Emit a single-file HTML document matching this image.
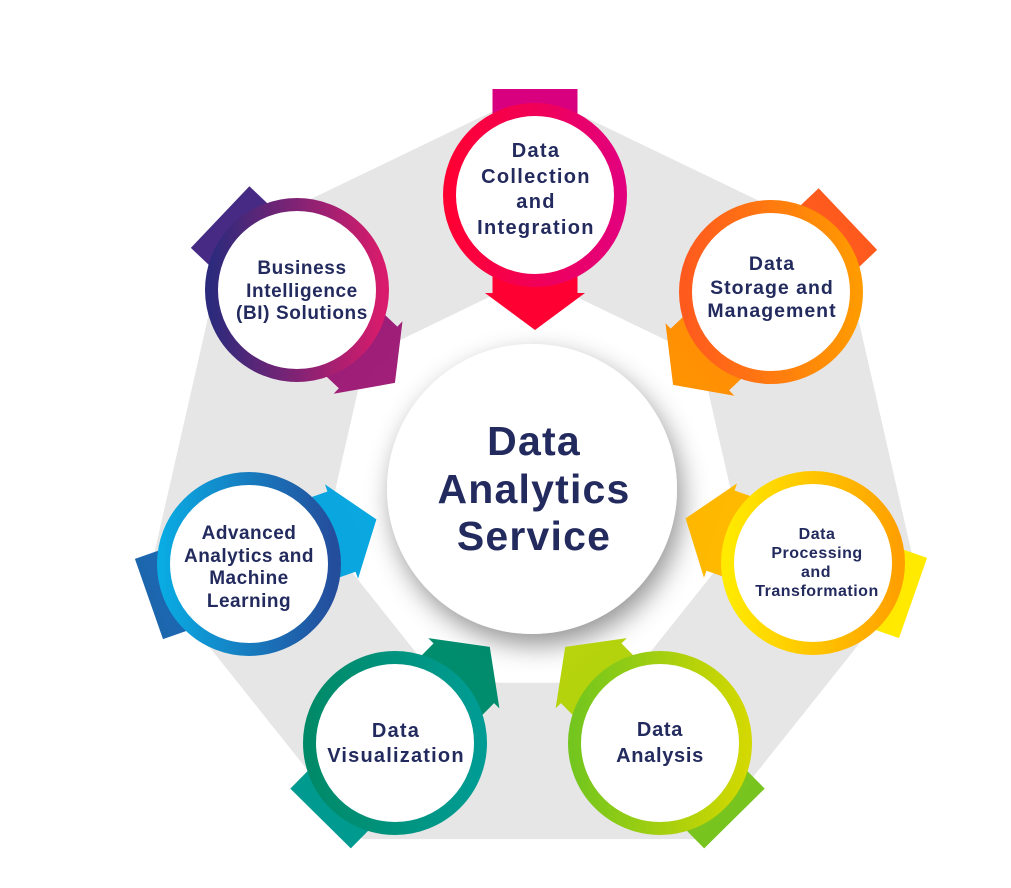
<!DOCTYPE html>
<html>
<head>
<meta charset="utf-8">
<style>
  html,body{margin:0;padding:0;background:#ffffff;}
  svg{display:block;}
  .c{font-family:"Liberation Sans",sans-serif;font-weight:bold;fill:#232b5e;text-anchor:middle;}
</style>
</head>
<body>
<svg width="1011" height="888" viewBox="0 0 1011 888" xmlns="http://www.w3.org/2000/svg">
  <defs>
    <filter id="sh" x="-30%" y="-30%" width="160%" height="170%">
      <feDropShadow dx="5" dy="11" stdDeviation="13" flood-color="#000" flood-opacity="0.42"/>
    </filter>
    <!-- ring gradients -->
    <linearGradient id="r1" x1="0" y1="0" x2="1" y2="0"><stop offset="0" stop-color="#ff0033"/><stop offset="1" stop-color="#e2007c"/></linearGradient>
    <linearGradient id="r2" x1="0" y1="0" x2="1" y2="0"><stop offset="0" stop-color="#ff5a1e"/><stop offset="1" stop-color="#ff9a00"/></linearGradient>
    <linearGradient id="r3" x1="0" y1="0" x2="1" y2="0"><stop offset="0" stop-color="#ffea00"/><stop offset="1" stop-color="#ffa000"/></linearGradient>
    <linearGradient id="r4" x1="0" y1="0" x2="1" y2="0"><stop offset="0" stop-color="#74c61e"/><stop offset="1" stop-color="#d2d800"/></linearGradient>
    <linearGradient id="r5" x1="0" y1="0" x2="1" y2="0"><stop offset="0" stop-color="#008a68"/><stop offset="1" stop-color="#009c94"/></linearGradient>
    <linearGradient id="r6" x1="0" y1="0" x2="1" y2="0"><stop offset="0" stop-color="#0aaae2"/><stop offset="1" stop-color="#244d9c"/></linearGradient>
    <linearGradient id="r7" x1="0" y1="0" x2="1" y2="0"><stop offset="0" stop-color="#2c2a7c"/><stop offset="1" stop-color="#d81b6c"/></linearGradient>
    <!-- arrow gradients (local coords) -->
    <linearGradient id="a1" gradientUnits="userSpaceOnUse" x1="-106" y1="0" x2="135" y2="0"><stop offset="0" stop-color="#d8007f"/><stop offset="0.3" stop-color="#d8007f"/><stop offset="0.7" stop-color="#ff0033"/><stop offset="1" stop-color="#ff0033"/></linearGradient>
    <linearGradient id="a2" gradientUnits="userSpaceOnUse" x1="-106" y1="0" x2="135" y2="0"><stop offset="0" stop-color="#ff5a1e"/><stop offset="0.3" stop-color="#ff5e1c"/><stop offset="0.7" stop-color="#ff8c08"/><stop offset="1" stop-color="#ff9400"/></linearGradient>
    <linearGradient id="a3" gradientUnits="userSpaceOnUse" x1="-106" y1="0" x2="135" y2="0"><stop offset="0" stop-color="#ffea00"/><stop offset="0.3" stop-color="#ffe600"/><stop offset="0.7" stop-color="#ffbc00"/><stop offset="1" stop-color="#ffb600"/></linearGradient>
    <linearGradient id="a4" gradientUnits="userSpaceOnUse" x1="-106" y1="0" x2="135" y2="0"><stop offset="0" stop-color="#78c41e"/><stop offset="0.3" stop-color="#7cc61c"/><stop offset="0.7" stop-color="#b0d20e"/><stop offset="1" stop-color="#b8d40c"/></linearGradient>
    <linearGradient id="a5" gradientUnits="userSpaceOnUse" x1="-106" y1="0" x2="135" y2="0"><stop offset="0" stop-color="#009a90"/><stop offset="0.3" stop-color="#00988c"/><stop offset="0.7" stop-color="#008e70"/><stop offset="1" stop-color="#008c6c"/></linearGradient>
    <linearGradient id="a6" gradientUnits="userSpaceOnUse" x1="-106" y1="0" x2="135" y2="0"><stop offset="0" stop-color="#1c66ae"/><stop offset="0.3" stop-color="#1a6cb4"/><stop offset="0.7" stop-color="#0aa4de"/><stop offset="1" stop-color="#0aa8e0"/></linearGradient>
    <linearGradient id="a7" gradientUnits="userSpaceOnUse" x1="-106" y1="0" x2="135" y2="0"><stop offset="0" stop-color="#452a84"/><stop offset="0.3" stop-color="#4c2a84"/><stop offset="0.7" stop-color="#9a1e78"/><stop offset="1" stop-color="#a21f78"/></linearGradient>
    <path id="arr" d="M-106,-42.5 L98,-42.5 L98,-50 L135,0 L98,50 L98,42.5 L-106,42.5 Z"/>
  </defs>

  <!-- gray heptagon ring -->
  <path fill="#e6e6e6" fill-rule="evenodd"
    d="M533,92 L840.3,240 L916.1,572.4 L703.5,839.1 L362.5,839.1 L149.9,572.4 L225.7,240 Z
       M533,276 L700.3,356.6 L741.6,537.6 L625.9,682.8 L440.1,682.8 L324.4,537.6 L365.7,356.6 Z"/>

  <!-- central circle -->
  <circle cx="532" cy="489" r="145" fill="#ffffff" filter="url(#sh)"/>
  <text class="c" x="534" y="455" font-size="41" letter-spacing="1.2">Data</text>
  <text class="c" x="534" y="503" font-size="41" letter-spacing="1.2">Analytics</text>
  <text class="c" x="534" y="550" font-size="41" letter-spacing="1.2">Service</text>

  <!-- arrows -->
  <use href="#arr" fill="url(#a1)" transform="translate(535,195) rotate(90)"/>
  <use href="#arr" fill="url(#a2)" transform="translate(771,292) rotate(136.5)"/>
  <use href="#arr" fill="url(#a3)" transform="translate(813,563) rotate(199.3)"/>
  <use href="#arr" fill="url(#a4)" transform="translate(660,743) rotate(225.4)"/>
  <use href="#arr" fill="url(#a5)" transform="translate(395,743) rotate(-45.4)"/>
  <use href="#arr" fill="url(#a6)" transform="translate(249,564) rotate(-19.3)"/>
  <use href="#arr" fill="url(#a7)" transform="translate(297,290) rotate(43.5)"/>

  <!-- node rings -->
  <circle cx="535" cy="195" r="85.5" fill="#ffffff" stroke="url(#r1)" stroke-width="13"/>
  <circle cx="771" cy="292" r="85.5" fill="#ffffff" stroke="url(#r2)" stroke-width="13"/>
  <circle cx="813" cy="563" r="85.5" fill="#ffffff" stroke="url(#r3)" stroke-width="13"/>
  <circle cx="660" cy="743" r="85.5" fill="#ffffff" stroke="url(#r4)" stroke-width="13"/>
  <circle cx="395" cy="743" r="85.5" fill="#ffffff" stroke="url(#r5)" stroke-width="13"/>
  <circle cx="249" cy="564" r="85.5" fill="#ffffff" stroke="url(#r6)" stroke-width="13"/>
  <circle cx="297" cy="290" r="85.5" fill="#ffffff" stroke="url(#r7)" stroke-width="13"/>

  <!-- node labels -->
  <g class="c" font-size="20" letter-spacing="1.3">
    <text x="536" y="157">Data</text>
    <text x="536" y="183">Collection</text>
    <text x="536" y="208">and</text>
    <text x="536" y="234">Integration</text>
  </g>
  <g class="c" font-size="19.5" letter-spacing="1">
    <text x="772" y="270">Data</text>
    <text x="772" y="294">Storage and</text>
    <text x="772" y="317">Management</text>
  </g>
  <g class="c" font-size="16" letter-spacing="0.5">
    <text x="817" y="539">Data</text>
    <text x="817" y="558">Processing</text>
    <text x="816" y="577">and</text>
    <text x="817" y="596">Transformation</text>
  </g>
  <g class="c" font-size="20" letter-spacing="0.7">
    <text x="660" y="736">Data</text>
    <text x="660" y="762">Analysis</text>
  </g>
  <g class="c" font-size="20" letter-spacing="1.2">
    <text x="396" y="737">Data</text>
    <text x="396" y="762">Visualization</text>
  </g>
  <g class="c" font-size="19" letter-spacing="0.5">
    <text x="249" y="539">Advanced</text>
    <text x="249" y="562">Analytics and</text>
    <text x="249" y="584">Machine</text>
    <text x="249" y="607">Learning</text>
  </g>
  <g class="c" font-size="19" letter-spacing="0.6">
    <text x="302" y="274">Business</text>
    <text x="302" y="297">Intelligence</text>
    <text x="302" y="319">(BI) Solutions</text>
  </g>
</svg>
</body>
</html>
